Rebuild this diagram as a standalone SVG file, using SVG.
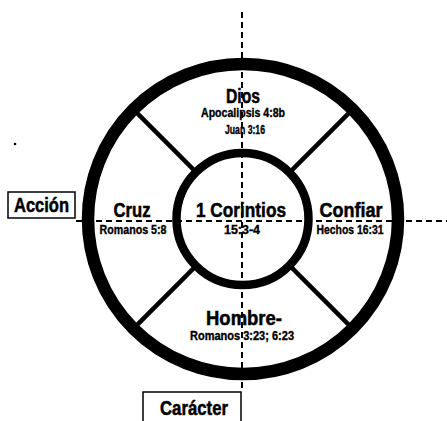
<svg xmlns="http://www.w3.org/2000/svg" width="447" height="421" viewBox="0 0 447 421">
<style>
.t{font-family:"Liberation Sans",Arial,sans-serif;font-weight:bold;fill:#000;stroke:#000;stroke-width:0.5;text-anchor:middle}
.big{font-size:20px}
.small{font-size:12px;stroke-width:0.35}
.dash{stroke:#000;stroke-width:2;stroke-dasharray:6 4;fill:none}
.box{fill:#fff;stroke:#000;stroke-width:1.5}
.spoke{stroke:#000;stroke-width:4.5}
</style>
<rect width="447" height="421" fill="#fff"/>
<g id="connectors">
<line class="dash" x1="242" y1="12" x2="242" y2="392"/>
<line class="dash" x1="76" y1="221" x2="447" y2="221"/>
<line class="spoke" x1="196.3" y1="172.3" x2="133.4" y2="109.4"/>
<line class="spoke" x1="289.7" y1="172.3" x2="352.6" y2="109.4"/>
<line class="spoke" x1="196.3" y1="265.7" x2="133.4" y2="328.6"/>
<line class="spoke" x1="289.7" y1="265.7" x2="352.6" y2="328.6"/>
</g>
<g id="outer-ring">
<circle cx="243" cy="219" r="155" fill="none" stroke="#000" stroke-width="12.5"/>
</g>
<g id="center">
<circle cx="242.5" cy="219" r="66" fill="none" stroke="#000" stroke-width="8.5"/>
<text class="t big" x="241" y="217" textLength="90" lengthAdjust="spacingAndGlyphs">1 Corintios</text>
<text class="t small" x="242" y="234" textLength="36" lengthAdjust="spacingAndGlyphs">15:3-4</text>
</g>
<g id="dios">
<text class="t big" x="243" y="103" textLength="34" lengthAdjust="spacingAndGlyphs">Dios</text>
<text class="t small" x="243" y="117" textLength="84" lengthAdjust="spacingAndGlyphs">Apocalipsis 4:8b</text>
<text class="t small" x="245" y="134" textLength="40" lengthAdjust="spacingAndGlyphs">Juan 3:16</text>
</g>
<g id="cruz">
<text class="t big" x="132" y="217" textLength="37" lengthAdjust="spacingAndGlyphs">Cruz</text>
<text class="t small" x="133" y="234" textLength="67" lengthAdjust="spacingAndGlyphs">Romanos 5:8</text>
</g>
<g id="confiar">
<text class="t big" x="351" y="217" textLength="63" lengthAdjust="spacingAndGlyphs">Confiar</text>
<text class="t small" x="350" y="234" textLength="67" lengthAdjust="spacingAndGlyphs">Hechos 16:31</text>
</g>
<g id="hombre">
<text class="t big" x="244" y="325" textLength="76" lengthAdjust="spacingAndGlyphs">Hombre-</text>
<text class="t small" x="242" y="340" textLength="104" lengthAdjust="spacingAndGlyphs">Romanos 3:23; 6:23</text>
</g>
<g id="accion">
<rect class="box" x="8" y="192" width="67" height="26"/>
<text class="t big" x="41.5" y="212" textLength="55" lengthAdjust="spacingAndGlyphs">Acción</text>
</g>
<g id="caracter">
<rect class="box" x="143" y="392" width="98" height="40"/>
<text class="t big" x="194" y="415" textLength="68" lengthAdjust="spacingAndGlyphs">Carácter</text>
</g>
<circle cx="15" cy="144" r="1.3" fill="#000"/>
</svg>
